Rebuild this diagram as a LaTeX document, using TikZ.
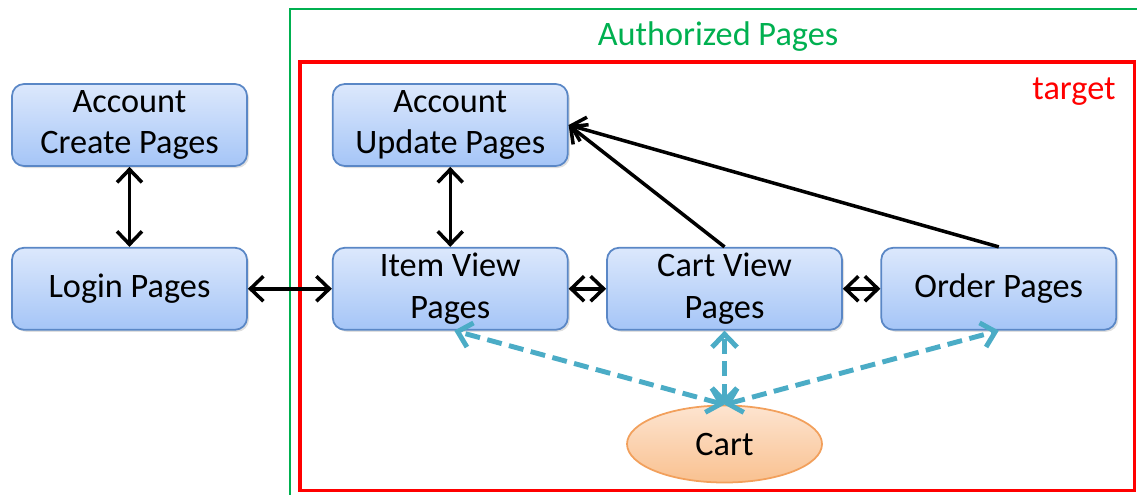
\documentclass[tikz,border=0pt]{standalone}
\usepackage{fontspec}
\setmainfont{Carlito}
\usetikzlibrary{arrows.meta,positioning,shapes.geometric,shadows}

\definecolor{boxtop}{HTML}{DCE8FC}
\definecolor{boxbottom}{HTML}{A5C5F7}
\definecolor{boxline}{HTML}{5A87C6}
\definecolor{carttop}{HTML}{FDE4D0}
\definecolor{cartbottom}{HTML}{F9C190}
\definecolor{cartline}{HTML}{F2A05C}
\definecolor{linkteal}{HTML}{4BACC6}
\definecolor{authgreen}{HTML}{00B050}

\begin{document}
\begin{tikzpicture}[
		node distance=1.6cm,
		pagebox/.style={draw=boxline, rounded corners=0.24cm, top color=boxtop, bottom color=boxbottom, align=center, minimum width=4.7cm, minimum height=1.64cm, inner sep=0pt, line width=1pt, font=\fontsize{19.5}{23.5}\selectfont, drop shadow={opacity=0.25, shadow xshift=0.04cm, shadow yshift=-0.04cm}},
		storebox/.style={draw=cartline, ellipse, top color=carttop, bottom color=cartbottom, minimum width=3.9cm, minimum height=1.54cm, inner sep=0pt, line width=1pt, font=\fontsize{19.5}{23.5}\selectfont},
		arrow/.style={{Straight Barb[length=2.6mm,width=5mm]}-{Straight Barb[length=2.6mm,width=5mm]}, line width=2pt},
		onearrow/.style={-{Straight Barb[length=2.6mm,width=5mm]}, line width=2pt},
		dasharrow/.style={{Straight Barb[length=2.6mm,width=5mm]}-{Straight Barb[length=2.6mm,width=5mm]}, line width=2.8pt, draw=linkteal, dash pattern=on 0.3cm off 0.15cm}
	]
		\useasboundingbox (0,0) rectangle (22.74,-9.9);
		\draw[authgreen, line width=0.9pt] (5.8,-10.5) -- (5.8,-0.18) -- (23.2,-0.18);
		\draw[red, line width=2pt] (6.0,-1.24) rectangle (22.69,-9.81);
		\node[authgreen, font=\fontsize{19.5}{23.5}\selectfont] (authtitle) at (14.36,-0.74) {Authorized Pages};
		\node[red, font=\fontsize{19.5}{23.5}\selectfont] (targettitle) at (21.48,-1.84) {target};

		\node[pagebox] (acccreate) at (2.59,-2.5) {Account\\Create Pages};
		\node[pagebox, below=of acccreate] (login) {Login Pages};
		\node[pagebox, right=1.68cm of login] (itemview) {Item View\\Pages};
		\node[pagebox, above=of itemview] (accupdate) {Account\\Update Pages};
		\node[pagebox, right=0.75cm of itemview] (cartview) {Cart View\\Pages};
		\node[pagebox, right=0.75cm of cartview] (order) {Order Pages};
		\node[storebox, below=1.48cm of cartview] (cart) {Cart};

		\draw[arrow] (acccreate) -- (login);
		\draw[arrow] (login) -- (itemview);
		\draw[arrow] (accupdate) -- (itemview);
		\draw[arrow] (itemview) -- (cartview);
		\draw[arrow] (cartview) -- (order);
		\draw[onearrow] (cartview.north) -- (accupdate.east);
		\draw[onearrow] (order.north) -- (accupdate.east);
		\draw[dasharrow] (cart.north) -- ([xshift=0.08cm]itemview.south);
		\draw[dasharrow] (cart.north) -- (cartview.south);
		\draw[dasharrow] (cart.north) -- (order.south);
	\end{tikzpicture}
\end{document}
